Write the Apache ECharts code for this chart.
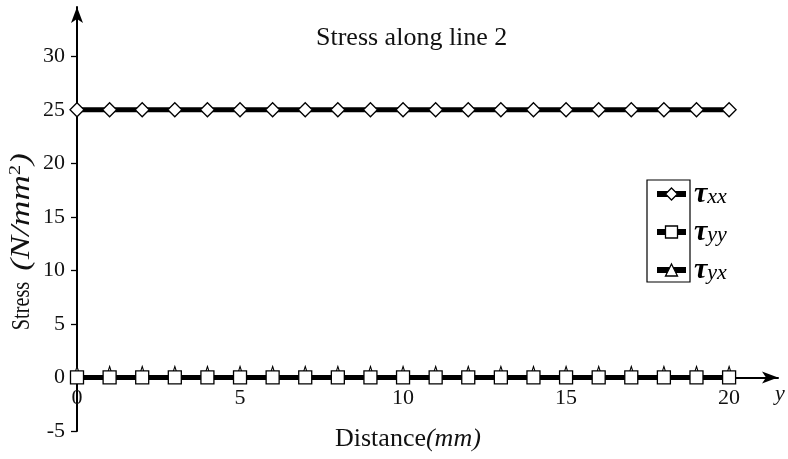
<!DOCTYPE html>
<html>
<head>
<meta charset="utf-8">
<script src="https://cdn.jsdelivr.net/npm/echarts@6/dist/echarts.min.js"></script>
<style>
html, body { margin: 0; background: #fff; }
#main { width: 788px; height: 459px; }
</style>
</head>
<body>
<div id="main"></div>
<script>
// 数据
const distance = [0, 1, 2, 3, 4, 5, 6, 7, 8, 9, 10, 11, 12, 13, 14, 15, 16, 17, 18, 19, 20];
const tauXX = [25, 25, 25, 25, 25, 25, 25, 25, 25, 25, 25, 25, 25, 25, 25, 25, 25, 25, 25, 25, 25];
const tauYY = [0, 0, 0, 0, 0, 0, 0, 0, 0, 0, 0, 0, 0, 0, 0, 0, 0, 0, 0, 0, 0];
const tauYX = [0, 0, 0, 0, 0, 0, 0, 0, 0, 0, 0, 0, 0, 0, 0, 0, 0, 0, 0, 0, 0];
const xTicks = [0, 5, 10, 15, 20];
const yTicks = [-5, 0, 5, 10, 15, 20, 25, 30];

const FONT = "Liberation Serif";
const pairs = (ys) => distance.map((d, i) => [d, ys[i]]);

const makeSeries = (name, ys, symbol, size, z, offset) => ({
  name: name,
  type: "line",
  data: pairs(ys),
  symbol: symbol,
  symbolSize: size,
  symbolOffset: offset || [0, 0],
  showAllSymbol: true,
  z: z,
  lineStyle: { color: "#000", width: 5 },
  itemStyle: { color: "#fff", borderColor: "#000", borderWidth: 1.3 },
  emphasis: { disabled: true },
});

var myChart = echarts.init(document.getElementById("main"));
myChart.setOption({
  animation: false,
  title: [
    {
      text: "Stress along line 2",
      left: 316,
      top: 25,
      padding: 0,
      textStyle: { fontFamily: FONT, fontSize: 26, fontWeight: "normal", color: "#111" },
    },
    {
      text: "{a|Distance}{b|(mm)}",
      left: 335,
      top: 426,
      padding: 0,
      textStyle: {
        fontWeight: "normal",
        rich: {
          a: { fontFamily: FONT, fontSize: 26, fontWeight: "normal", color: "#111" },
          b: { fontFamily: FONT, fontSize: 26, fontWeight: "normal", fontStyle: "italic", color: "#111" },
        },
      },
    },
  ],
  grid: { left: 77, right: 10, top: 7, bottom: 28 },
  legend: {
    orient: "vertical",
    left: 654,
    top: 179,
    padding: 0,
    itemWidth: 29,
    itemHeight: 15,
    itemGap: 8,
    selectedMode: false,
    data: ["xx", "yy", "yx"],
    lineStyle: { width: 6, color: "#000" },
    itemStyle: { borderWidth: 1.3, borderColor: "#000", color: "#fff" },
    formatter: (n) => "{t|τ}{s|" + n + "}",
    textStyle: {
      padding: [0, 0, 0, 3],
      rich: {
        t: { fontFamily: FONT, fontSize: 30, fontStyle: "italic", fontWeight: "bold", color: "#000", lineHeight: 28 },
        s: { fontFamily: FONT, fontSize: 22, fontStyle: "italic", color: "#000", verticalAlign: "bottom", lineHeight: 28 },
      },
    },
  },
  xAxis: {
    type: "value",
    min: 0,
    max: 21.5,
    offset: -53.5,
    name: "y",
    nameLocation: "end",
    nameGap: 2,
    nameTextStyle: { fontFamily: FONT, fontSize: 22, fontStyle: "italic", color: "#111", align: "center", verticalAlign: "top", padding: [6, 0, 0, 0] },
    splitLine: { show: false },
    axisLine: { onZero: false, lineStyle: { color: "#000", width: 2 }, symbol: ["none", "arrow"], symbolSize: [9, 16] },
    axisTick: { customValues: xTicks, length: 5, lineStyle: { color: "#000", width: 1.3 } },
    axisLabel: { customValues: xTicks, margin: 10, fontFamily: FONT, fontSize: 22, color: "#111" },
  },
  yAxis: {
    type: "value",
    min: -5,
    max: 34.6,
    splitLine: { show: false },
    axisLine: { lineStyle: { color: "#000", width: 2 }, symbol: ["none", "arrow"], symbolSize: [9, 16] },
    axisTick: { customValues: yTicks, length: 6, lineStyle: { color: "#000", width: 1.3 } },
    axisLabel: { customValues: yTicks, margin: 12, fontFamily: FONT, fontSize: 22, color: "#111" },
  },
  graphic: [
    {
      type: "text",
      x: 22,
      y: 306,
      rotation: Math.PI / 2,
      scaleX: 0.78,
      style: {
        text: "Stress",
        align: "center",
        verticalAlign: "middle",
        font: "26px 'Liberation Serif'",
        fill: "#111",
      },
    },
    {
      type: "text",
      x: 22,
      y: 212,
      rotation: Math.PI / 2,
      scaleX: 1.3,
      style: {
        text: "{b|(N/mm}{c|2}{b|)}",
        align: "center",
        verticalAlign: "middle",
        rich: {
          b: { fontFamily: FONT, fontSize: 27, fontStyle: "italic", fill: "#111", lineHeight: 28 },
          c: { fontFamily: FONT, fontSize: 16, fill: "#111", verticalAlign: "top", lineHeight: 28 },
        },
      },
    },
    {
      type: "rect",
      shape: { x: 647, y: 180, width: 43, height: 102 },
      style: { fill: "none", stroke: "#000", lineWidth: 1.2 },
    },
  ],
  series: [
    makeSeries("xx", tauXX, "diamond", 14, 3),
    makeSeries("yy", tauYY, "rect", 13, 3),
    makeSeries("yx", tauYX, "triangle", [10, 16], 2, [0, -3]),
  ],
});
</script>
</body>
</html>
